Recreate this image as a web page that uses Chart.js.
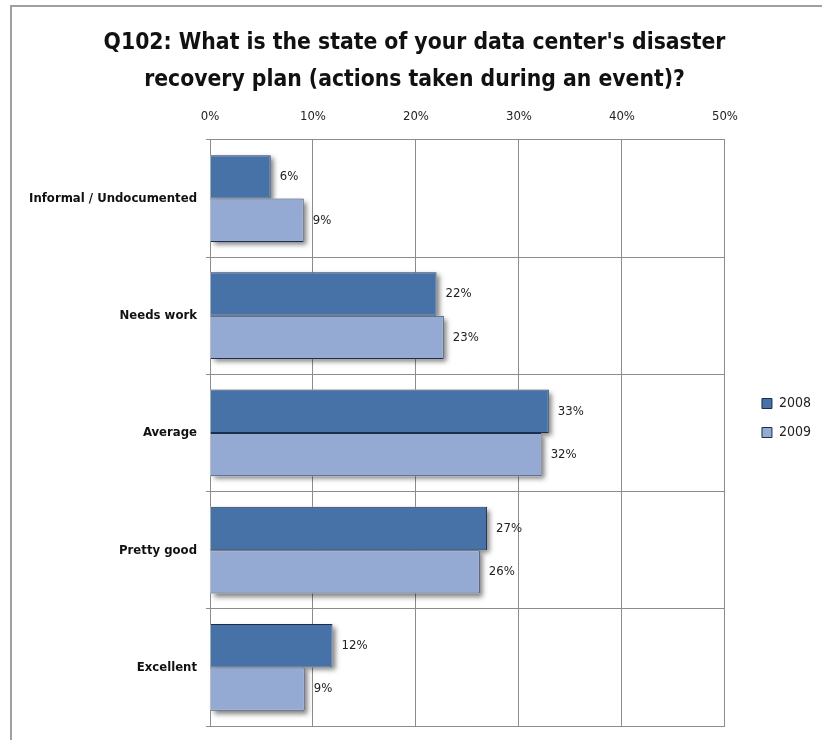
<!DOCTYPE html>
<html>
<head>
<meta charset="utf-8">
<script src="https://cdn.jsdelivr.net/npm/chart.js@4/dist/chart.umd.min.js"></script>
<style>
  html, body { margin: 0; padding: 0; background: #fff; overflow: hidden; }
  #frame { position: absolute; left: 10px; top: 5px; width: 900px; height: 800px;
    border-left: 2px solid #a0a0a0; border-top: 2px solid #a0a0a0; }
  #wrap { position: absolute; left: 0; top: 0; width: 822px; height: 740px; }
</style>
</head>
<body>
<div id="frame"></div>
<div id="wrap"><canvas id="chart" width="822" height="740"></canvas></div>
<script>
const categories = ['Informal / Undocumented', 'Needs work', 'Average', 'Pretty good', 'Excellent'];
const seriesNames = ['2008', '2009'];
const values2008 = [5.9, 22.0, 32.9, 26.9, 11.9];
const values2009 = [9.1, 22.7, 32.2, 26.2, 9.2];
const titleLines = ["Q102: What is the state of your data center's disaster",
                    'recovery plan (actions taken during an event)?'];

const sansFont = "'DejaVu Sans Condensed', 'Liberation Sans', sans-serif";

// soft drop shadow behind the bars, like the Excel original
const barShadow = {
  id: 'barShadow',
  beforeDatasetsDraw(chart) {
    const ctx = chart.ctx;
    ctx.save();
    ctx.shadowColor = 'rgba(0,0,0,0.5)';
    ctx.shadowBlur = 5;
    ctx.shadowOffsetX = 3;
    ctx.shadowOffsetY = 3;
    ctx.fillStyle = '#fff';
    chart.data.datasets.forEach((ds, i) => {
      chart.getDatasetMeta(i).data.forEach(bar => {
        const p = bar.getProps(['x', 'y', 'base', 'height'], true);
        ctx.fillRect(p.base, p.y - p.height / 2, p.x - p.base, p.height);
      });
    });
    ctx.restore();
  }
};

// percent labels to the right of each bar
const valueLabels = {
  id: 'valueLabels',
  afterDatasetsDraw(chart) {
    const ctx = chart.ctx;
    ctx.save();
    ctx.font = '13px ' + sansFont;
    ctx.fillStyle = '#222';
    ctx.textAlign = 'left';
    ctx.textBaseline = 'middle';
    chart.data.datasets.forEach((ds, i) => {
      chart.getDatasetMeta(i).data.forEach((bar, j) => {
        ctx.fillText(Math.round(ds.data[j]) + '%', bar.x + 9, bar.y);
      });
    });
    ctx.restore();
  }
};

// nudge legend and title toward where Excel put them
const boxNudge = {
  id: 'boxNudge',
  afterLayout(chart) {
    const lg = chart.legend;
    if (lg) {
      lg.left += 22; lg.right += 22;
      lg.top += 43; lg.bottom += 43;
    }
    const tt = chart.titleBlock;
    if (tt) {
      tt.left += 10; tt.right += 10;
    }
  }
};

new Chart(document.getElementById('chart'), {
  type: 'bar',
  data: {
    labels: categories,
    datasets: [
      { label: seriesNames[0], data: values2008, backgroundColor: '#4672a8', borderColor: '#1d2d4d', borderWidth: 1 },
      { label: seriesNames[1], data: values2009, backgroundColor: '#95aad2', borderColor: '#1d2d4d', borderWidth: 1 }
    ]
  },
  options: {
    indexAxis: 'y',
    responsive: false,
    animation: false,
    layout: { padding: { left: 10, right: 23, top: 24, bottom: 14 } },
    datasets: { bar: { categoryPercentage: 0.74, barPercentage: 1.0, borderSkipped: 'left' } },
    scales: {
      x: {
        position: 'top',
        min: 0, max: 50,
        ticks: { stepSize: 10, callback: v => v + '%', color: '#222', font: { family: sansFont, size: 13 }, padding: 15 },
        grid: { color: '#8c8c8c', lineWidth: 1, drawTicks: false },
        border: { color: '#8c8c8c' },
        afterFit: s => { s.height = 41; }
      },
      y: {
        ticks: { color: '#111', font: { family: sansFont, size: 13, weight: 'bold' }, padding: 9 },
        grid: { color: '#8c8c8c', lineWidth: 1, tickLength: 4, offset: true },
        border: { color: '#8c8c8c' },
        afterFit: s => { s.width = 200; s.paddingTop = 0; s.paddingBottom = 0; }
      }
    },
    plugins: {
      title: {
        display: true,
        text: titleLines,
        color: '#111',
        font: { family: sansFont, size: 22.7, weight: 'bold', lineHeight: 1.65 },
        padding: { top: 0, bottom: 0 }
      },
      legend: {
        position: 'right',
        labels: {
          boxWidth: 10, boxHeight: 10, padding: 15,
          color: '#222',
          font: { family: sansFont, size: 14 }
        }
      },
      tooltip: { enabled: false }
    }
  },
  plugins: [barShadow, valueLabels, boxNudge]
});
</script>
</body>
</html>
